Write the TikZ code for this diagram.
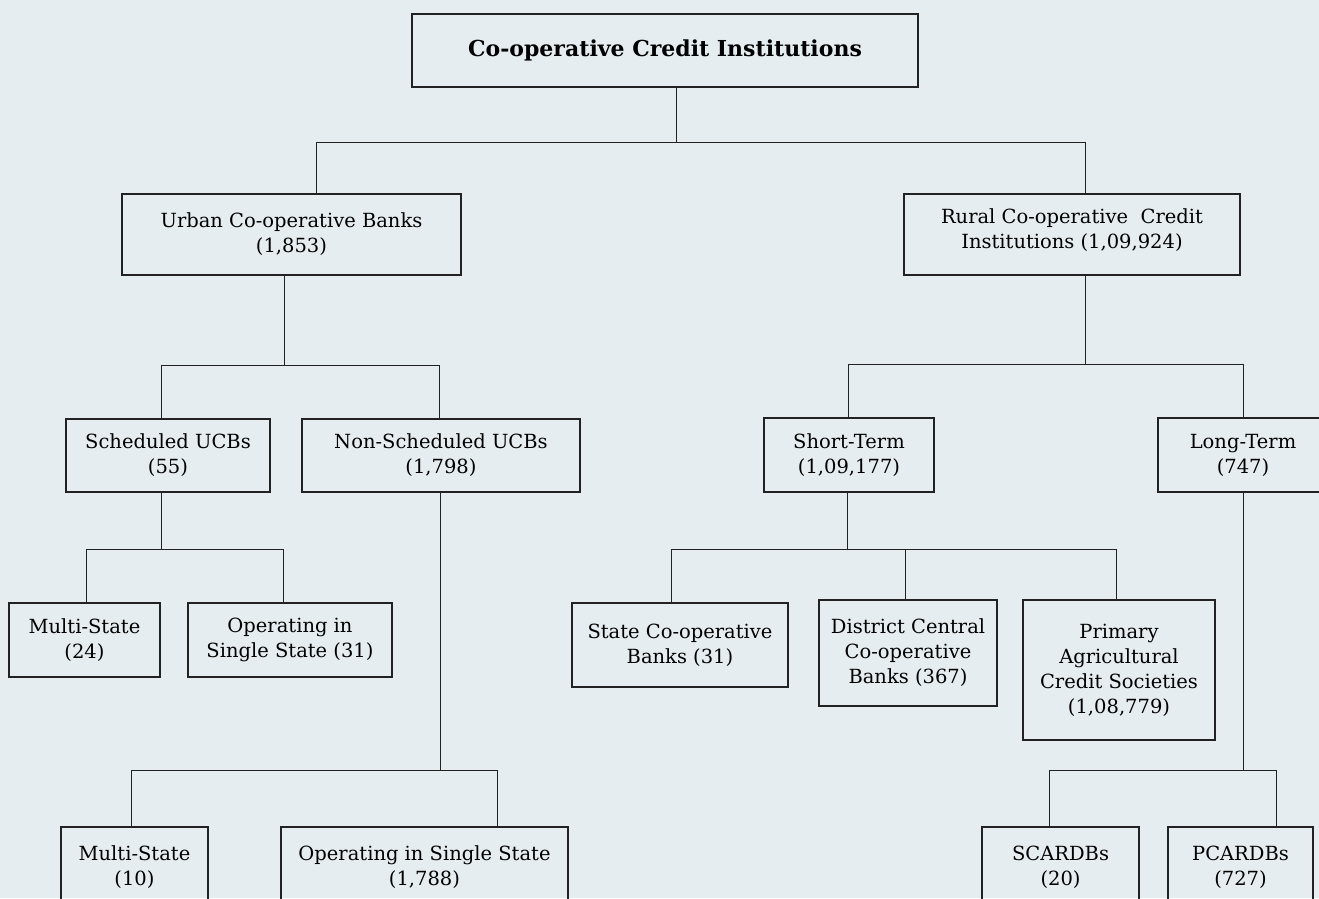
\documentclass[tikz,border=0pt]{standalone}
\usepackage{fontspec}
\setmainfont{DejaVu Serif}
\definecolor{bg}{RGB}{230,237,240}
\definecolor{ln}{RGB}{34,34,34}
\begin{document}
\begin{tikzpicture}[x=1pt,y=-1pt,
  box/.style={draw=ln,line width=1.2pt,rectangle,inner sep=0pt,align=center,
    font=\fontsize{19.5}{25}\selectfont,text=black},
  conn/.style={draw=ln,line width=1pt}]
\fill[bg] (0,0) rectangle (1319,898);
\useasboundingbox (0,0) rectangle (1319,898);
\begin{scope}
\clip (0,0) rectangle (1319,898);
% boxes
\node[box,minimum width=506pt,minimum height=73pt,font=\fontsize{22}{26}\selectfont\bfseries] (top) at (665,50.5) {Co-operative  Credit  Institutions};
\node[box,minimum width=339pt,minimum height=81pt] (urban) at (291.5,234.5) {Urban Co-operative Banks\\(1,853)};
\node[box,minimum width=336pt,minimum height=81pt] (rural) at (1072,234.5) {Rural Co-operative\ \ Credit\\Institutions\ (1,09,924)\\[-14pt]};
\node[box,minimum width=204pt,minimum height=73pt] (sched) at (168,455.5) {Scheduled UCBs\\(55)};
\node[box,minimum width=278pt,minimum height=73pt] (nonsched) at (441,455.5) {Non-Scheduled UCBs\\(1,798)};
\node[box,minimum width=170pt,minimum height=74pt] (short) at (849,455) {Short-Term\\(1,09,177)};
\node[box,minimum width=170pt,minimum height=74pt] (long) at (1243,455) {Long-Term\\(747)};
\node[box,minimum width=151pt,minimum height=74pt] (ms1) at (84.5,640) {Multi-State\\(24)};
\node[box,minimum width=204pt,minimum height=74pt] (os1) at (290,640) {Operating in\\Single State (31)};
\node[box,minimum width=216pt,minimum height=84pt] (scb) at (680,645) {State Co-operative\\Banks (31)};
\node[box,minimum width=178pt,minimum height=106pt] (dccb) at (908,653) {District Central\\Co-operative\\Banks (367)};
\node[box,minimum width=192pt,minimum height=140pt] (pacs) at (1119,670) {Primary\\Agricultural\\Credit Societies\\(1,08,779)};
\node[box,minimum width=147pt,minimum height=80pt] (ms2) at (134.5,867) {Multi-State\\(10)};
\node[box,minimum width=287pt,minimum height=80pt] (os2) at (424.5,867) {Operating in Single State\\(1,788)};
\node[box,minimum width=157pt,minimum height=80pt] (scardb) at (1060.5,867) {SCARDBs\\(20)};
\node[box,minimum width=145pt,minimum height=80pt] (pcardb) at (1240.5,867) {PCARDBs\\(727)};
% junction coordinates
\coordinate (j0) at (676,142);
\coordinate (j0l) at (316,142);
\coordinate (j0r) at (1085,142);
\coordinate (j1) at (284,365);
\coordinate (j1l) at (161,365);
\coordinate (j1r) at (439,365);
\coordinate (j2) at (161,549);
\coordinate (j2l) at (86,549);
\coordinate (j2r) at (283,549);
\coordinate (j3) at (440,770);
\coordinate (j3l) at (131,770);
\coordinate (j3r) at (497,770);
\coordinate (j4) at (1085,364);
\coordinate (j4l) at (848,364);
\coordinate (j4r) at (1243,364);
\coordinate (j5) at (847,549);
\coordinate (j5l) at (671,549);
\coordinate (j5m) at (905,549);
\coordinate (j5r) at (1116,549);
\coordinate (j6) at (1243,770);
\coordinate (j6l) at (1049,770);
\coordinate (j6r) at (1276,770);
% connectors
\draw[conn] (j0 |- top.south) -- (j0);
\draw[conn] (j0l |- urban.north) -- (j0l) -- (j0r) -- (j0r |- rural.north);
\draw[conn] (j1 |- urban.south) -- (j1);
\draw[conn] (j1l |- sched.north) -- (j1l) -- (j1r) -- (j1r |- nonsched.north);
\draw[conn] (j2 |- sched.south) -- (j2);
\draw[conn] (j2l |- ms1.north) -- (j2l) -- (j2r) -- (j2r |- os1.north);
\draw[conn] (j3 |- nonsched.south) -- (j3);
\draw[conn] (j3l |- ms2.north) -- (j3l) -- (j3r) -- (j3r |- os2.north);
\draw[conn] (j4 |- rural.south) -- (j4);
\draw[conn] (j4l |- short.north) -- (j4l) -- (j4r) -- (j4r |- long.north);
\draw[conn] (j5 |- short.south) -- (j5);
\draw[conn] (j5l |- scb.north) -- (j5l) -- (j5r) -- (j5r |- pacs.north);
\draw[conn] (j5m) -- (j5m |- dccb.north);
\draw[conn] (j6 |- long.south) -- (j6);
\draw[conn] (j6l |- scardb.north) -- (j6l) -- (j6r) -- (j6r |- pcardb.north);
\end{scope}
\end{tikzpicture}
\end{document}
